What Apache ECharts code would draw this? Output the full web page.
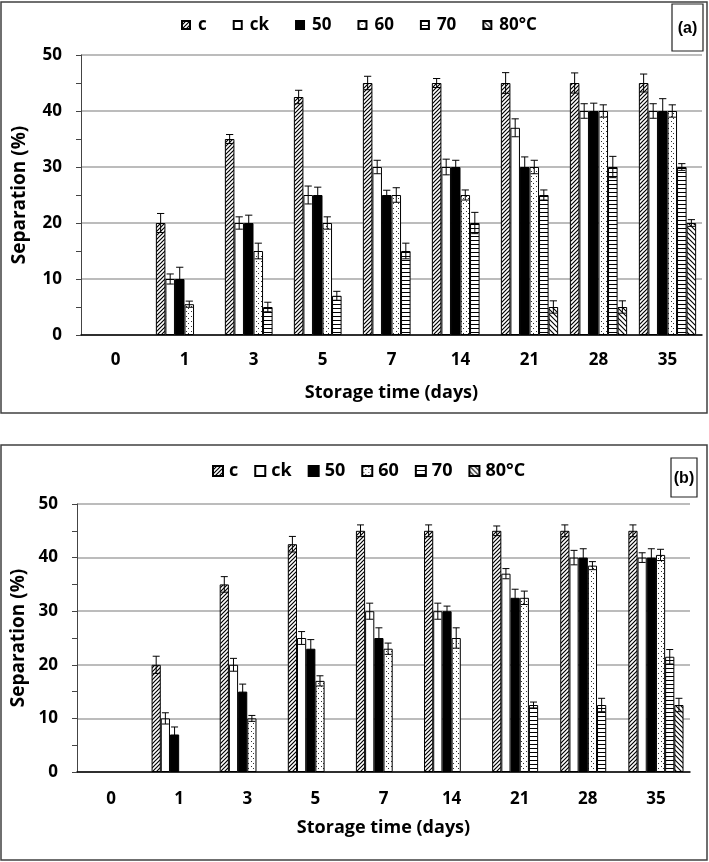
<!DOCTYPE html>
<html><head><meta charset="utf-8">
<script src="https://cdn.jsdelivr.net/npm/echarts@6/dist/echarts.min.js"></script>
<style>html,body{margin:0;padding:0;background:#fff}#c{width:709px;height:862px}</style>
</head><body><div id="c"></div>
<script>
// ---- data ----
const categories = ['0','1','3','5','7','14','21','28','35'];
const seriesNames = ['c','ck','50','60','70','80°C'];
const yTicks = [0,10,20,30,40,50];

// panel (a)
const a_c  = [0,20,35,42.5,45,45,45,45,45];
const a_ck = [0,10,20,25,30,30,37,40,40];
const a_50 = [0,10,20,25,25,30,30,40,40];
const a_60 = [0,5.5,15,20,25,25,30,40,40];
const a_70 = [0,0,5,7,15,20,25,30,30];
const a_80 = [0,0,0,0,0,0,5,5,20];
const a_c_err  = [0,1.7,0.8,1.2,1.2,0.8,1.85,1.8,1.6];
const a_ck_err = [0,0.9,1.1,1.6,1.2,1.4,1.6,1.3,1.3];
const a_50_err = [0,2.1,1.4,1.4,0.85,1.2,1.8,1.4,2.2];
const a_60_err = [0,0.55,1.4,1.1,1.3,0.9,1.2,1.1,1.1];
const a_70_err = [0,0,0.85,0.8,1.4,1.9,0.9,1.9,0.6];
const a_80_err = [0,0,0,0,0,0,1.1,1.1,0.6];

// panel (b)
const b_c  = [0,20,35,42.5,45,45,45,45,45];
const b_ck = [0,10,20,25,30,30,37,40,40];
const b_50 = [0,7,15,23,25,30,32.5,40,40];
const b_60 = [0,0,10,17,23,25,32.5,38.5,40.5];
const b_70 = [0,0,0,0,0,0,12.5,12.5,21.5];
const b_80 = [0,0,0,0,0,0,0,0,12.5];
const b_c_err  = [0,1.6,1.45,1.45,1.1,1.1,0.9,1.1,1.1];
const b_ck_err = [0,1.05,1.2,1.2,1.5,1.5,0.95,1.35,0.9];
const b_50_err = [0,1.4,1.4,1.7,1.9,0.95,1.6,1.65,1.65];
const b_60_err = [0,0,0.55,0.95,1.05,1.9,1.25,0.75,1.05];
const b_70_err = [0,0,0,0,0,0,0.55,1.25,1.35];
const b_80_err = [0,0,0,0,0,0,0,0,1.25];

// ---- patterns ----
function pattern(kind){
  if (kind === 'white') return '#ffffff';
  if (kind === 'black') return '#000000';
  const cv = document.createElement('canvas');
  let s = 4;
  if (kind === 'back') s = 5;
  if (kind === 'dots') s = 5;
  cv.width = s; cv.height = s;
  const g = cv.getContext('2d');
  g.fillStyle = '#fff'; g.fillRect(0,0,s,s);
  g.strokeStyle = '#000'; g.fillStyle = '#000';
  if (kind === 'fwd' || kind === 'back') {
    g.lineWidth = kind === 'fwd' ? 1.2 : 1.1;
    g.beginPath();
    if (kind === 'fwd') {
      g.moveTo(0,s); g.lineTo(s,0);
      g.moveTo(-1,1); g.lineTo(1,-1);
      g.moveTo(s-1,s+1); g.lineTo(s+1,s-1);
    } else {
      g.moveTo(0,0); g.lineTo(s,s);
      g.moveTo(-1,s-1); g.lineTo(1,s+1);
      g.moveTo(s-1,-1); g.lineTo(s+1,1);
    }
    g.stroke();
  } else if (kind === 'dots') {
    g.fillStyle = '#333';
    g.fillRect(1,1,1,1);
    g.fillRect(3,3,1,1);
  } else if (kind === 'horiz') {
    g.fillRect(0,0,s,1);
  }
  return {image: cv, repeat: 'repeat'};
}
const fills = [pattern('fwd'), pattern('white'), pattern('black'), pattern('dots'), pattern('horiz'), pattern('back')];

const FONT = '"Open Sans", "Noto Sans", sans-serif';
const panels = [
  {vals:[a_c,a_ck,a_50,a_60,a_70,a_80], errs:[a_c_err,a_ck_err,a_50_err,a_60_err,a_70_err,a_80_err],
   grid:{left:81, top:55, width:621, height:280}, gap:0.17, labelMargin:17, yLabelMargin:19,
   xNameGap:49, yNameGap:52},
  {vals:[b_c,b_ck,b_50,b_60,b_70,b_80], errs:[b_c_err,b_ck_err,b_50_err,b_60_err,b_70_err,b_80_err],
   grid:{left:77, top:504, width:613, height:268}, gap:0.19, labelMargin:19, yLabelMargin:19,
   xNameGap:47, yNameGap:48}
];

const grids = [], xAxes = [], yAxes = [], series = [];
panels.forEach((p, gi) => {
  grids.push(p.grid);
  xAxes.push({
    type:'category', gridIndex:gi, data:categories,
    axisLine:{show:true, lineStyle:{color:'#000', width:1.5}},
    axisTick:{show:false},
    axisLabel:{color:'#000', fontFamily:FONT, fontWeight:'bold', fontSize:17, margin:p.labelMargin},
    name:'Storage time (days)', nameLocation:'middle', nameGap:p.xNameGap,
    nameTextStyle:{color:'#000', fontFamily:FONT, fontWeight:'bold', fontSize:18}
  });
  yAxes.push({
    type:'value', gridIndex:gi, min:yTicks[0], max:yTicks[yTicks.length-1], interval:yTicks[1]-yTicks[0],
    axisLine:{show:true, lineStyle:{color:'#444', width:1}},
    axisTick:{show:true, inside:false, length:5, lineStyle:{color:'#444'}},
    minorTick:{show:true, splitNumber:2, length:5, lineStyle:{color:'#444'}},
    splitLine:{show:true, lineStyle:{color:'#a6a6a6', width:1.5}},
    axisLabel:{color:'#000', fontFamily:FONT, fontWeight:'bold', fontSize:17, margin:p.yLabelMargin},
    name:'Separation (%)', nameLocation:'middle', nameGap:p.yNameGap,
    nameTextStyle:{color:'#000', fontFamily:FONT, fontWeight:'bold', fontSize:19}
  });
  seriesNames.forEach((nm, si) => {
    series.push({
      type:'bar', name:nm, xAxisIndex:gi, yAxisIndex:gi,
      data:p.vals[si].map(v => v > 0 ? v : '-'),
      barGap:'0%', barCategoryGap:(p.gap*100)+'%',
      itemStyle:{color:fills[si], borderColor:'#000', borderWidth:1},
      emphasis:{disabled:true}, animation:false
    });
  });
  const edata = [];
  p.vals.forEach((arr, si) => arr.forEach((v, i) => {
    const e = p.errs[si][i];
    if (v > 0 && e > 0) edata.push([i, si, v, e]);
  }));
  const gap = p.gap;
  series.push({
    type:'custom', name:'err'+gi, xAxisIndex:gi, yAxisIndex:gi, z:10, silent:true, animation:false,
    encode:{x:0, y:2}, data:edata,
    renderItem:(params, api) => {
      const cat = api.value(0), slot = api.value(1), v = api.value(2), e = api.value(3);
      const band = api.size([1,0])[0];
      const grp = band*(1-gap), bw = grp/6;
      const c = api.coord([cat, v]);
      const x = c[0] - grp/2 + bw*(slot+0.5);
      const yt = api.coord([cat, v+e])[1], yb = api.coord([cat, v-e])[1];
      const hw = bw*0.38;
      const st = {stroke:'#000', lineWidth:1};
      return {type:'group', children:[
        {type:'line', shape:{x1:x, y1:yt, x2:x, y2:yb}, style:st},
        {type:'line', shape:{x1:x-hw, y1:yt, x2:x+hw, y2:yt}, style:st},
        {type:'line', shape:{x1:x-hw, y1:yb, x2:x+hw, y2:yb}, style:st}
      ]};
    }
  });
});

const legendText = (fs, pad) => ({color:'#000', fontFamily:FONT, fontWeight:'bold', fontSize:fs, lineHeight:20, padding:[0,0,0,pad]});
const option = {
  backgroundColor:'#fff',
  animation:false,
  grid:grids, xAxis:xAxes, yAxis:yAxes, series:series,
  legend:[
    {data:seriesNames, left:176, top:10, icon:'rect', itemWidth:8, itemHeight:8, itemGap:26,
     textStyle:legendText(17,3), selectedMode:false},
    {data:seriesNames, left:207, top:456, icon:'rect', itemWidth:10, itemHeight:10, itemGap:16,
     textStyle:legendText(18,1), selectedMode:false}
  ],
  graphic:[
    {type:'rect', shape:{x:1, y:2, width:706, height:411}, style:{fill:'none', stroke:'#404040', lineWidth:1.5}, silent:true},
    {type:'rect', shape:{x:1, y:445, width:706, height:415}, style:{fill:'none', stroke:'#404040', lineWidth:1.5}, silent:true},
    {type:'rect', shape:{x:672, y:4, width:31, height:47}, style:{fill:'#fff', stroke:'#222', lineWidth:1.2}, silent:true},
    {type:'text', x:687.5, y:29, style:{text:'(a)', fill:'#000', font:'bold 16px "Liberation Sans", Arial', align:'center', verticalAlign:'middle'}, silent:true},
    {type:'rect', shape:{x:671, y:458, width:26, height:39}, style:{fill:'#fff', stroke:'#222', lineWidth:1.2}, silent:true},
    {type:'text', x:684, y:479, style:{text:'(b)', fill:'#000', font:'bold 16px "Liberation Sans", Arial', align:'center', verticalAlign:'middle'}, silent:true}
  ]
};
const chart = echarts.init(document.getElementById('c'), null, {renderer:'canvas'});
chart.setOption(option);
</script>
</body></html>
